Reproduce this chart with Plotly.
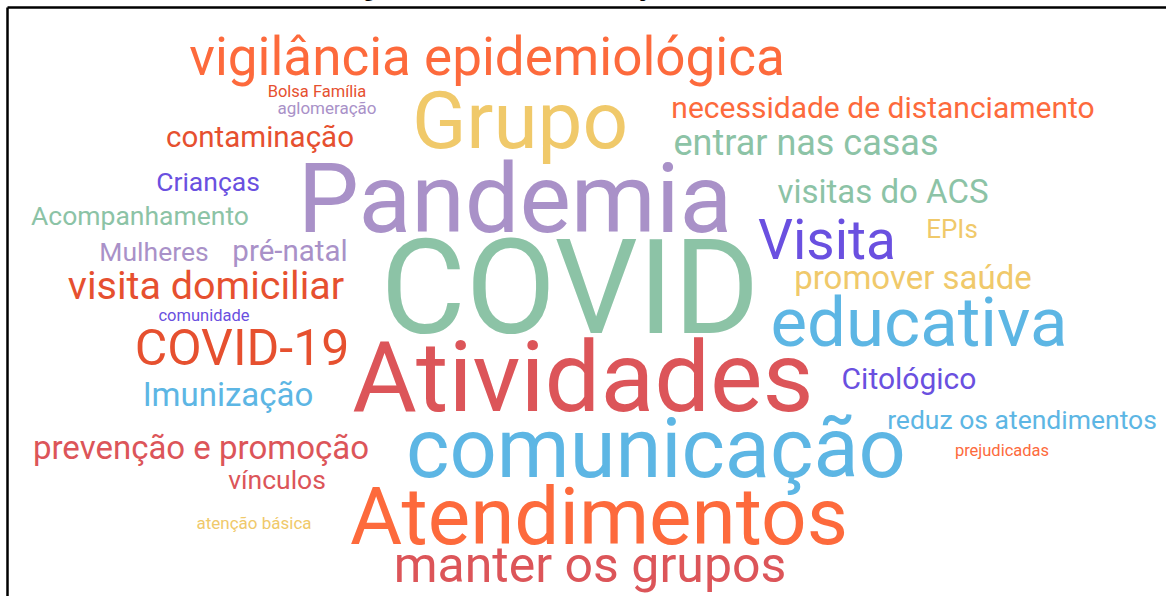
import plotly.graph_objects as go

# ---- data: word-cloud terms and their weights (rendered font size) ----
words = [
    "vigilância epidemiológica", "Bolsa Família", "aglomeração", "Grupo",
    "necessidade de distanciamento", "contaminação", "entrar nas casas",
    "Pandemia", "Crianças", "visitas do ACS", "Acompanhamento", "Visita",
    "EPIs", "Mulheres", "pré-natal", "COVID", "promover saúde",
    "visita domiciliar", "comunidade", "educativa", "COVID-19", "Atividades",
    "Citológico", "Imunização", "reduz os atendimentos", "prevenção e promoção",
    "comunicação", "prejudicadas", "vínculos", "atenção básica",
    "Atendimentos", "manter os grupos",
]
weights = [53, 16.5, 17, 80, 30, 29.5, 36, 97, 26.5, 33, 26.5, 55, 26, 26.5,
           29.5, 131, 33, 39.5, 16.5, 69, 50, 99, 30, 33, 26.5, 33, 83, 16.5,
           26.5, 17, 80, 50]

# ---- layout of the cloud (pixel coordinates: centre x, text baseline) ----
pos_x = [487, 317, 327, 520, 883, 260, 806, 515, 208, 883, 140, 827, 952,
         154, 290, 570, 913, 206, 204, 919, 242, 583, 909, 228, 1022, 201,
         656, 1002, 277, 254, 599, 590]
baseline = [75, 97, 114, 148, 118, 147, 155, 232, 191, 203, 225, 259, 238,
            261, 261, 333, 289, 299, 321, 346, 365, 411, 389, 406, 429, 459,
            477, 456, 489, 529, 544, 582]

# ---- palette ----
ORANGE = "#fd6a3c"
REDOR = "#e6502f"
CORAL = "#dc5559"
YELLOW = "#f0c96a"
GREEN = "#8cc3a6"
LAV = "#a991c8"
VIOLET = "#6a50e0"
BLUE = "#5db6e4"
colors = [ORANGE, REDOR, LAV, YELLOW, ORANGE, REDOR, GREEN, LAV, VIOLET,
          GREEN, GREEN, VIOLET, YELLOW, LAV, LAV, GREEN, YELLOW, REDOR,
          VIOLET, BLUE, REDOR, CORAL, VIOLET, BLUE, BLUE, CORAL, BLUE,
          ORANGE, CORAL, YELLOW, ORANGE, CORAL]

W, H = 1166, 596
# plotly puts the baseline of a 'middle center' text 0.25*size below the point
ys = [b - 0.25 * s for b, s in zip(baseline, weights)]

fig = go.Figure(go.Scatter(
    x=pos_x, y=ys, mode="text", text=words,
    textposition="middle center",
    textfont=dict(family="Roboto", size=weights, color=colors),
    hoverinfo="skip", showlegend=False,
))

# frame of the figure box (top and left edges visible)
fig.add_shape(type="line", x0=7.5, x1=W, y0=7.5, y1=7.5,
              line=dict(color="black", width=2.5))
fig.add_shape(type="line", x0=7.5, x1=7.5, y0=7.5, y1=H,
              line=dict(color="black", width=2.5))

# caption above, cropped by the top edge (only descenders remain visible)
fig.add_annotation(x=345 / W, y=1 + 9.5 / H, xref="paper", yref="paper",
                   xanchor="left", yanchor="middle", showarrow=False,
                   text="<b>Figura 3 – Resultados da Nuvem de palavras</b>",
                   font=dict(family="Liberation Serif", size=19, color="black"))

fig.update_layout(
    width=W, height=H, margin=dict(l=0, r=0, t=0, b=0),
    paper_bgcolor="white", plot_bgcolor="white",
    xaxis=dict(range=[0, W], visible=False, fixedrange=True),
    yaxis=dict(range=[H, 0], visible=False, fixedrange=True),
)
fig.write_html(
    "out.html",
    config={"displayModeBar": False},
    post_script="document.body.style.margin='0';document.body.style.overflow='hidden';",
)
